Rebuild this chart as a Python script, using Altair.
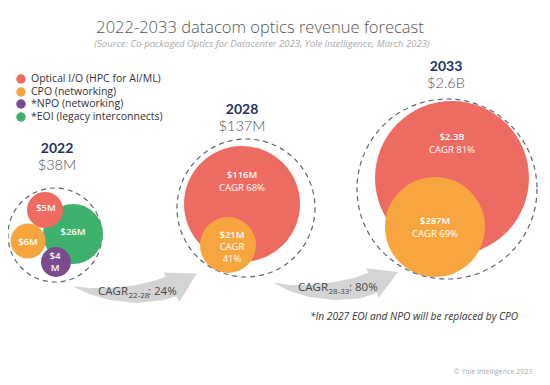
import altair as alt
import pandas as pd
import math

# ---------------- data ----------------
series = ["Optical I/O (HPC for AI/ML)", "CPO (networking)", "*NPO (networking)", "*EOI (legacy interconnects)"]
series_colors = ["#EE6B61", "#F7A53F", "#7A4C8F", "#3FB16E"]

years = ["2022", "2028", "2033"]
year_totals = ["$38M", "$137M", "$2.6B"]

# bubbles: year, series index, label lines
bubble_year = ["2022", "2022", "2022", "2022", "2028", "2028", "2033", "2033"]
bubble_series = [3, 0, 1, 2, 0, 1, 0, 1]
bubble_value = ["$26M", "$5M", "$6M", "$4M", "$116M", "$21M", "$2.3B", "$287M"]
bubble_cagr = ["", "", "", "", "CAGR 68%", "CAGR 41%", "CAGR 81%", "CAGR 69%"]

cagr_labels = ["24%", "80%"]
cagr_periods = ["22-28", "28-33"]

title = "2022-2033 datacom optics revenue forecast"
subtitle = "(Source: Co-packaged Optics for Datacenter 2023, Yole Intelligence, March 2023)"
footnote = "*In 2027 EOI and NPO will be replaced by CPO"
copyright_txt = "© Yole Intelligence 2023"

# ---------------- layout (pixel positions in the 550x385 page) ----------------
bubble_cx = [73, 45, 28, 56, 242, 228, 452, 435]
bubble_cy = [234, 210, 241, 262, 204, 245, 178, 227]
bubble_r = [30, 18, 17.5, 15, 58, 28, 77, 50]

ring_cx = [55, 246, 447]
ring_cy = [235, 208, 189]
ring_r = [47, 69, 90]

year_x = [57, 242, 446]
year_y = [149, 110, 67]

FONT = "Open Sans"
W, H = 534, 369
xs = alt.Scale(domain=[8, 542], range=[0, W], nice=False, zero=False)
ys = alt.Scale(domain=[8, 377], range=[0, H], nice=False, zero=False)


def X(f="x"):
    return alt.X(f"{f}:Q", scale=xs, axis=None)


def Y(f="y"):
    return alt.Y(f"{f}:Q", scale=ys, axis=None)


def text_layer(df, **kw):
    base = dict(font=FONT, baseline="middle", align="center")
    base.update(kw)
    return alt.Chart(df).mark_text(**base).encode(x=X(), y=Y(), text="t:N")


layers = []

# arrows (trail body + triangle head)
arrow_id = [0] * 6 + [1] * 6
arrow_x = [75, 90, 110, 137, 160, 172, 275, 290, 310, 335, 358, 372]
arrow_y = [287, 291, 294, 294, 290, 286, 283, 288, 291, 291, 288, 283]
arrow_w = [1, 6, 12, 18, 21, 22, 1, 6, 12, 18, 21, 22]
arrows = pd.DataFrame({"id": arrow_id, "x": arrow_x, "y": arrow_y, "w": arrow_w,
                       "o": list(range(len(arrow_x)))})
layers.append(alt.Chart(arrows).mark_trail(color="#D4D4D4").encode(
    x=X(), y=Y(), size=alt.Size("w:Q", scale=None), detail="id:N", order="o:Q"))
heads = pd.DataFrame({"x": [184.2, 385.3], "y": [280.3, 277.5], "a": [62, 67], "s": [1100, 1024]})
layers.append(alt.Chart(heads).mark_point(shape="triangle-up", filled=True, color="#D4D4D4", opacity=1).encode(
    x=X(), y=Y(), angle=alt.Angle("a:Q", scale=None), size=alt.Size("s:Q", scale=None)))

# dashed rings
rings = pd.DataFrame({"x": ring_cx, "y": ring_cy, "s": [(2 * r) ** 2 for r in ring_r]})
layers.append(alt.Chart(rings).mark_point(shape="circle", filled=False, stroke="#5C6672",
                                          strokeWidth=1.2, strokeDash=[5, 4], opacity=1).encode(
    x=X(), y=Y(), size=alt.Size("s:Q", scale=None)))

# bubbles
bub = pd.DataFrame({
    "x": bubble_cx, "y": bubble_cy,
    "s": [(2 * r) ** 2 for r in bubble_r],
    "c": [series_colors[i] for i in bubble_series],
    "o": list(range(len(bubble_cx))),
})
for i in range(len(bub)):
    layers.append(alt.Chart(bub.iloc[[i]]).mark_point(shape="circle", filled=True, opacity=1, strokeWidth=0).encode(
        x=X(), y=Y(), size=alt.Size("s:Q", scale=None), color=alt.Color("c:N", scale=None)))

# bubble labels
val_rows = []
cagr_rows = []
# 2022 small bubbles
val_rows += [(73, 232, "$26M"), (46, 208, "$5M"), (28, 242, "$6M"), (55, 256, "$4"), (55, 268, "M")]
# 2028
val_rows += [(242, 175, bubble_value[4]), (232, 235, bubble_value[5])]
cagr_rows += [(242, 188, bubble_cagr[4]), (232, 247, "CAGR"), (232, 259, bubble_cagr[5].split(" ")[1])]
# 2033
val_rows += [(452, 137, bubble_value[6]), (435, 221, bubble_value[7])]
cagr_rows += [(452, 150, bubble_cagr[6]), (435, 234, bubble_cagr[7])]
layers.append(text_layer(pd.DataFrame(val_rows, columns=["x", "y", "t"]),
                         color="white", fontSize=9.5, fontWeight=600))
layers.append(text_layer(pd.DataFrame(cagr_rows, columns=["x", "y", "t"]),
                         color="white", fontSize=9.5, fontWeight=400))

# year headings and totals
layers.append(text_layer(pd.DataFrame({"x": year_x, "y": year_y, "t": years}),
                         font="Lato", color="#1F3461", fontSize=14, fontWeight="bold"))
layers.append(text_layer(pd.DataFrame({"x": year_x, "y": [v + 17 for v in year_y], "t": year_totals}),
                         font="Lato", color="#555555", fontSize=14.5, fontWeight=300))

# legend
leg = pd.DataFrame({"x": [21] * 4, "y": [79, 92, 104, 117], "c": series_colors, "t": series})
layers.append(alt.Chart(leg).mark_point(shape="circle", filled=True, opacity=1, size=90).encode(
    x=X(), y=Y(), color=alt.Color("c:N", scale=None)))
leg_txt = pd.DataFrame({"x": [31], "y": [79], "t": ["\n".join(series)]})
layers.append(alt.Chart(leg_txt).mark_text(font=FONT, align="left", baseline="middle", lineBreak="\n",
                                           lineHeight=12.7, fontSize=10.5, color="#333333").encode(
    x=X(), y=Y(), text="t:N"))

# CAGR arrow labels
cg_main = pd.DataFrame({"x": [98, 298], "y": [292, 288], "t": ["CAGR", "CAGR"]})
cg_sub = pd.DataFrame({"x": [128.5, 328.5], "y": [296, 292], "t": cagr_periods})
cg_val = pd.DataFrame({"x": [148, 349], "y": [292, 288], "t": [": " + v for v in cagr_labels]})
layers.append(text_layer(cg_main, align="left", fontSize=11.5, color="#444444"))
layers.append(text_layer(cg_sub, align="left", fontSize=8, color="#444444"))
layers.append(text_layer(cg_val, align="left", fontSize=11.5, color="#444444"))

# titles and notes
layers.append(text_layer(pd.DataFrame({"x": [260], "y": [28], "t": [title]}),
                         fontSize=16.5, color="#555555", fontWeight=300))
layers.append(text_layer(pd.DataFrame({"x": [262], "y": [44], "t": [subtitle]}),
                         fontSize=9.5, color="#AAAAAA", fontStyle="italic"))
layers.append(text_layer(pd.DataFrame({"x": [414], "y": [317], "t": [footnote]}),
                         fontSize=10.2, color="#333333", fontStyle="italic"))
layers.append(text_layer(pd.DataFrame({"x": [493], "y": [372], "t": [copyright_txt]}),
                         fontSize=7, color="#AAAAAA"))

chart = alt.layer(*layers).properties(
    width=W, height=H, padding=0, autosize=alt.AutoSizeParams(type="none"), background="white"
).configure_view(stroke=None)

chart.save("out.html", embed_options={"renderer": "svg", "actions": False})
